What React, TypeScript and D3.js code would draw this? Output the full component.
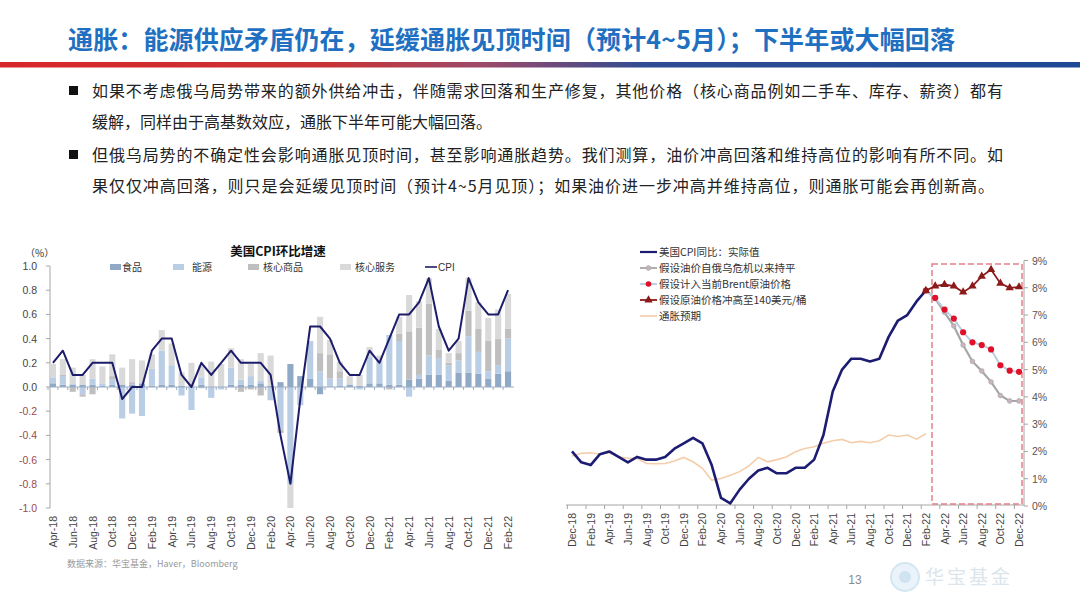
import React from 'react';
import * as d3 from 'd3';

// ---------------- Left chart data (US CPI MoM, %) ----------------
const leftMonths = [
  'Apr-18','May-18','Jun-18','Jul-18','Aug-18','Sep-18','Oct-18','Nov-18','Dec-18',
  'Jan-19','Feb-19','Mar-19','Apr-19','May-19','Jun-19','Jul-19','Aug-19','Sep-19','Oct-19','Nov-19','Dec-19',
  'Jan-20','Feb-20','Mar-20','Apr-20','May-20','Jun-20','Jul-20','Aug-20','Sep-20','Oct-20','Nov-20','Dec-20',
  'Jan-21','Feb-21','Mar-21','Apr-21','May-21','Jun-21','Jul-21','Aug-21','Sep-21','Oct-21','Nov-21','Dec-21',
  'Jan-22','Feb-22'
];
const cpiMoM = [
  0.2,0.3,0.1,0.1,0.2,0.2,0.2,-0.1,0.0,
  0.0,0.3,0.4,0.4,0.1,0.0,0.2,0.1,0.2,0.3,0.2,0.2,
  0.2,0.1,-0.4,-0.8,-0.1,0.5,0.5,0.4,0.2,0.1,0.1,0.3,
  0.2,0.4,0.6,0.6,0.7,0.9,0.5,0.3,0.4,0.9,0.7,0.6,
  0.6,0.8
];
const foodC = [
  0.03,0.02,0.02,0.02,0.02,0.01,0.02,0.02,0.02,
  0.03,0.01,0.02,0.02,0.01,0.0,0.02,0.0,0.0,0.02,0.02,0.02,
  0.03,0.01,0.04,0.19,0.09,0.07,-0.06,0.0,0.01,0.02,0.01,0.03,
  0.03,0.02,0.02,0.06,0.07,0.1,0.1,0.05,0.12,0.12,0.11,0.07,
  0.11,0.13
];
const energyC = [
  0.05,0.07,0.01,-0.06,0.05,0.02,0.04,-0.26,-0.22,
  -0.24,0.14,0.28,0.16,-0.07,-0.19,0.06,-0.09,-0.02,0.14,0.04,0.07,
  0.02,-0.11,-0.35,-0.8,-0.15,0.31,0.13,0.07,0.06,0.0,-0.02,0.22,
  0.19,0.41,0.36,-0.08,0.03,0.16,0.14,0.13,0.1,0.3,0.18,0.06,
  0.07,0.27
];
const coreGoodsC = [
  0.0,0.01,-0.04,-0.02,-0.06,0.0,0.03,0.0,0.02,
  0.0,0.0,0.0,0.0,0.0,0.0,-0.01,0.0,0.0,0.0,-0.04,-0.02,
  -0.07,0.0,-0.03,0.0,0.0,0.0,0.15,0.2,0.06,0.0,0.0,0.0,
  0.0,-0.02,0.06,0.4,0.39,0.43,0.07,0.02,0.06,0.21,0.19,0.25,
  0.22,0.08
];
const coreServicesC = [
  0.11,0.13,0.13,0.08,0.16,0.14,0.18,0.14,0.19,
  0.19,0.12,0.17,0.18,0.11,0.2,0.1,0.21,0.19,0.16,0.17,0.1,
  0.23,0.25,0.0,-0.2,0.0,0.0,0.3,0.12,0.08,0.07,0.09,0.08,
  0.04,0.0,0.14,0.3,0.22,0.21,0.17,0.08,0.1,0.27,0.22,0.19,
  0.24,0.29
];
const leftYTicks = [1.0,0.8,0.6,0.4,0.2,0.0,-0.2,-0.4,-0.6,-0.8,-1.0];
const leftSeriesNames = ['食品','能源','核心商品','核心服务'];
const leftSeriesColors = ['#8FA9C6','#B9CDE5','#BFBFBF','#D9D9D9'];

// ---------------- Right chart data (US CPI YoY, %) ----------------
const rightMonths = [
  'Dec-18',
  'Jan-19','Feb-19','Mar-19','Apr-19','May-19','Jun-19','Jul-19','Aug-19','Sep-19','Oct-19','Nov-19','Dec-19',
  'Jan-20','Feb-20','Mar-20','Apr-20','May-20','Jun-20','Jul-20','Aug-20','Sep-20','Oct-20','Nov-20','Dec-20',
  'Jan-21','Feb-21','Mar-21','Apr-21','May-21','Jun-21','Jul-21','Aug-21','Sep-21','Oct-21','Nov-21','Dec-21',
  'Jan-22','Feb-22','Mar-22','Apr-22','May-22','Jun-22','Jul-22','Aug-22','Sep-22','Oct-22','Nov-22','Dec-22'
];
const cpiYoY = [
  2.0,
  1.6,1.5,1.9,2.0,1.8,1.6,1.8,1.7,1.7,1.8,2.1,2.3,
  2.5,2.3,1.5,0.3,0.1,0.6,1.0,1.3,1.4,1.2,1.2,1.4,
  1.4,1.7,2.6,4.2,5.0,5.4,5.4,5.3,5.4,6.2,6.8,7.0,
  7.5,7.9
];
const inflExpect = [
  1.83,
  1.93,1.95,1.9,1.95,1.8,1.75,1.75,1.56,1.55,1.56,1.65,1.78,
  1.62,1.38,0.95,1.01,1.13,1.26,1.47,1.78,1.62,1.7,1.8,1.99,
  2.11,2.17,2.3,2.39,2.44,2.32,2.37,2.32,2.39,2.6,2.55,2.6,
  2.45,2.65
];
const scenarioMonths = ['Feb-22','Mar-22','Apr-22','May-22','Jun-22','Jul-22','Aug-22','Sep-22','Oct-22','Nov-22','Dec-22'];
const scenFlat = [7.9,7.6,7.1,6.6,5.9,5.3,4.95,4.55,4.05,3.85,3.85];
const scenBrent = [7.9,7.63,7.2,6.87,6.37,6.0,5.9,5.74,5.16,4.96,4.92];
const scen140 = [7.9,8.06,8.12,8.06,7.84,8.06,8.42,8.67,8.16,8.0,8.03];
const rightYTicks = [0,1,2,3,4,5,6,7,8,9];
const rightLegend = ['美国CPI同比：实际值','假设油价自俄乌危机以来持平','假设计入当前Brent原油价格','假设原油价格冲高至140美元/桶','通胀预期'];

const bullets = [
  ['如果不考虑俄乌局势带来的额外供给冲击，伴随需求回落和生产修复，其他价格（核心商品例如二手车、库存、薪资）都有', '缓解，同样由于高基数效应，通胀下半年可能大幅回落。'],
  ['但俄乌局势的不确定性会影响通胀见顶时间，甚至影响通胀趋势。我们测算，油价冲高回落和维持高位的影响有所不同。如', '果仅仅冲高回落，则只是会延缓见顶时间（预计4~5月见顶）；如果油价进一步冲高并维持高位，则通胀可能会再创新高。']
];

const CJK = '"Noto Sans CJK SC", "Noto Sans", sans-serif';
const LAT = '"Liberation Sans", Arial, sans-serif';

function LeftChart() {
  const x = d3.scaleBand<string>().domain(leftMonths).range([48, 513]).paddingInner(0.38).paddingOuter(0.19);
  const y = d3.scaleLinear().domain([-1, 1]).range([508, 266]);
  const rows = leftMonths.map((m, i) => ({ m, food: foodC[i], energy: energyC[i], goods: coreGoodsC[i], services: coreServicesC[i] }));
  const keys = ['food', 'energy', 'goods', 'services'];
  const stacked = d3.stack<any>().keys(keys).offset(d3.stackOffsetDiverging)(rows);
  const cx = (m: string) => (x(m) as number) + x.bandwidth() / 2;
  const line = d3.line<number>().x((_, i) => cx(leftMonths[i])).y(d => y(d));
  const legendX = [110, 173, 248, 340];
  const legendTextX = [122, 192, 263, 355];
  return (
    <g>
      <text x={278} y={256} textAnchor="middle" fontFamily={CJK} fontWeight="bold" fontSize={12.5} fill="#111">美国CPI环比增速</text>
      <text x={25} y={257} fontFamily={CJK} fontSize={10} fill="#333">（%）</text>
      {leftSeriesNames.map((n, i) => (
        <g key={n}>
          <rect x={legendX[i]} y={264} width={11} height={6} fill={leftSeriesColors[i]} />
          <text x={legendTextX[i]} y={271} fontFamily={CJK} fontSize={10} fill="#333">{n}</text>
        </g>
      ))}
      <line x1={425} x2={437} y1={267} y2={267} stroke="#1C1C6B" strokeWidth={1.6} />
      <text x={438} y={271} fontFamily={LAT} fontSize={10} fill="#333">CPI</text>
      {/* y axis */}
      <line x1={50} x2={50} y1={y(1)} y2={y(-1)} stroke="#A6A6A6" strokeWidth={1} />
      {leftYTicks.map(t => (
        <g key={t}>
          <line x1={46} x2={50} y1={y(t)} y2={y(t)} stroke="#A6A6A6" />
          <text x={37} y={y(t) + 4} textAnchor="end" fontFamily={LAT} fontSize={10.5} fill={t < 0 ? '#9A4C4C' : '#444'}>{t.toFixed(1)}</text>
        </g>
      ))}
      {/* bars */}
      {stacked.map((s, si) => (
        <g key={keys[si]} fill={leftSeriesColors[si]}>
          {s.map((d, i) => {
            const y0 = y(d[0]);
            const y1 = y(d[1]);
            return <rect key={i} x={x(leftMonths[i])} y={Math.min(y0, y1)} width={x.bandwidth()} height={Math.abs(y0 - y1)} />;
          })}
        </g>
      ))}
      {/* zero axis */}
      <line x1={50} x2={514} y1={y(0)} y2={y(0)} stroke="#9DAEC4" strokeWidth={1} />
      {leftMonths.map(m => (
        <line key={m} x1={(x(m) as number) - x.step() * 0.19} x2={(x(m) as number) - x.step() * 0.19} y1={y(0)} y2={y(0) + 3} stroke="#9DAEC4" />
      ))}
      <path d={line(cpiMoM) || ''} fill="none" stroke="#1C1C6B" strokeWidth={2} strokeLinejoin="round" />
      {/* x labels */}
      {leftMonths.filter((_, i) => i % 2 === 0).map(m => (
        <text key={m} transform={`translate(${cx(m) + 4},516) rotate(-90)`} textAnchor="end" fontFamily={LAT} fontSize={10.5} fill="#444">{m}</text>
      ))}
      <text x={67} y={567} fontFamily={CJK} fontSize={9} fill="#9A9A9A">数据来源：华宝基金，Haver，Bloomberg</text>
    </g>
  );
}

function RightChart() {
  const x = d3.scalePoint<string>().domain(rightMonths).range([572, 1019]);
  const y = d3.scaleLinear().domain([0, 9]).range([506, 260.5]);
  const actualMonths = rightMonths.slice(0, cpiYoY.length);
  const lineA = d3.line<number>().x((_, i) => x(actualMonths[i]) as number).y(d => y(d));
  const lineS = d3.line<number>().x((_, i) => x(scenarioMonths[i]) as number).y(d => y(d));
  const step = x.step();
  const tri = d3.symbol().type(d3.symbolTriangle).size(30)();
  const legendY = [252, 268, 284, 300, 316];
  return (
    <g>
      {/* x axis */}
      <line x1={566} x2={1024} y1={505} y2={505} stroke="#A6A6A6" />
      {rightMonths.map((m, i) => i % 2 === 0 ? (
        <line key={m} x1={(x(m) as number) - step / 2} x2={(x(m) as number) - step / 2} y1={505} y2={509} stroke="#A6A6A6" />
      ) : null)}
      {rightMonths.filter((_, i) => i % 2 === 0).map(m => (
        <text key={m} transform={`translate(${(x(m) as number) + 4},513) rotate(-90)`} textAnchor="end" fontFamily={LAT} fontSize={10.5} fill="#444">{m}</text>
      ))}
      {/* y axis right */}
      <line x1={1024} x2={1024} y1={y(9)} y2={y(0)} stroke="#A6A6A6" />
      {rightYTicks.map(t => (
        <g key={t}>
          <line x1={1024} x2={1028} y1={y(t)} y2={y(t)} stroke="#A6A6A6" />
          <text x={1032} y={y(t) + 4} fontFamily={LAT} fontSize={10.5} fill="#555">{t}%</text>
        </g>
      ))}
      {/* dashed box */}
      <rect x={932} y={264} width={90} height={240} fill="none" stroke="#E3808A" strokeWidth={1.5} strokeDasharray="6,3" />
      {/* lines */}
      <path d={lineA(inflExpect) || ''} fill="none" stroke="#F4CDAA" strokeWidth={1.6} />
      <path d={lineA(cpiYoY) || ''} fill="none" stroke="#1C1C73" strokeWidth={2.6} strokeLinejoin="round" />
      <path d={lineS(scenFlat) || ''} fill="none" stroke="#A6A6A6" strokeWidth={2.2} />
      {scenFlat.map((v, i) => (
        <circle key={i} cx={x(scenarioMonths[i])} cy={y(v)} r={2.4} fill="#C8B4C0" stroke="#A6A6A6" strokeWidth={0.6} />
      ))}
      <path d={lineS(scenBrent) || ''} fill="none" stroke="#B7CDE0" strokeWidth={2} />
      {scenBrent.map((v, i) => (
        <circle key={i} cx={x(scenarioMonths[i])} cy={y(v)} r={3.1} fill="#E0102A" />
      ))}
      <path d={lineS(scen140) || ''} fill="none" stroke="#8C1A1A" strokeWidth={1.8} />
      {scen140.map((v, i) => (
        <path key={i} d={tri || ''} transform={`translate(${x(scenarioMonths[i])},${y(v)})`} fill="#8C1A1A" />
      ))}
      {/* legend */}
      {rightLegend.map((n, i) => (
        <g key={n}>
          {i === 0 && <line x1={640} x2={657} y1={legendY[i]} y2={legendY[i]} stroke="#1C1C73" strokeWidth={2.2} />}
          {i === 1 && <g><line x1={640} x2={657} y1={legendY[i]} y2={legendY[i]} stroke="#A6A6A6" strokeWidth={1.8} /><circle cx={648.5} cy={legendY[i]} r={2.4} fill="#C8B4C0" stroke="#A6A6A6" strokeWidth={0.6} /></g>}
          {i === 2 && <g><line x1={640} x2={657} y1={legendY[i]} y2={legendY[i]} stroke="#B7CDE0" strokeWidth={1.8} /><circle cx={648.5} cy={legendY[i]} r={2.8} fill="#E0102A" /></g>}
          {i === 3 && <g><line x1={640} x2={657} y1={legendY[i]} y2={legendY[i]} stroke="#8C1A1A" strokeWidth={1.8} /><path d={tri || ''} transform={`translate(648.5,${legendY[i]})`} fill="#8C1A1A" /></g>}
          {i === 4 && <line x1={640} x2={657} y1={legendY[i]} y2={legendY[i]} stroke="#F4CDAA" strokeWidth={1.6} />}
          <text x={659} y={legendY[i] + 3.8} fontFamily={CJK} fontSize={10.5} fill="#333">{n}</text>
        </g>
      ))}
    </g>
  );
}

export default function App() {
  const lineWidths = [[911, null], [911, 902]];
  const baseY = [[97, 128], [161, 192]];
  return (
    <svg width={1080} height={608} style={{ position: 'absolute', left: 0, top: 0, background: '#fff' }}>
      <defs>
        <linearGradient id="hdrGrad" x1="0" x2="1" y1="0" y2="0">
          <stop offset="0" stopColor="#D8262A" />
          <stop offset="0.3" stopColor="#C93234" />
          <stop offset="0.45" stopColor="#9A4A6A" />
          <stop offset="0.6" stopColor="#2E4C93" />
          <stop offset="1" stopColor="#1E4895" />
        </linearGradient>
      </defs>
      <rect x={0} y={0} width={1080} height={608} fill="#fff" />
      <text x={68} y={49} fontFamily={CJK} fontWeight="bold" fontSize={25} fill="#1F70C1" textLength={887} lengthAdjust="spacing">通胀：能源供应矛盾仍在，延缓通胀见顶时间（预计4~5月）；下半年或大幅回落</text>
      <rect x={0} y={62} width={1080} height={5.5} fill="url(#hdrGrad)" />
      {bullets.map((b, bi) => (
        <g key={bi}>
          <rect x={69} y={baseY[bi][0] - 11} width={9} height={9} fill="#111" />
          {b.map((ln, li) => {
            const w = lineWidths[bi][li];
            return w ? (
              <text key={li} x={92} y={baseY[bi][li]} fontFamily={CJK} fontSize={16} fill="#222" textLength={w} lengthAdjust="spacing">{ln}</text>
            ) : (
              <text key={li} x={92} y={baseY[bi][li]} fontFamily={CJK} fontSize={16} fill="#222">{ln}</text>
            );
          })}
        </g>
      ))}
      <LeftChart />
      <RightChart />
      <text x={855} y={584} textAnchor="middle" fontFamily={LAT} fontSize={12} fill="#8A8A8A">13</text>
      <circle cx={905} cy={577} r={14} fill="#EAF3F9" stroke="#D3E6F2" strokeWidth={2} />
      <circle cx={905} cy={577} r={6} fill="#CFE3F0" />
      <text x={925} y={584} fontFamily={CJK} fontSize={19} fill="#DCE5EC" letterSpacing={3}>华宝基金</text>
    </svg>
  );
}
